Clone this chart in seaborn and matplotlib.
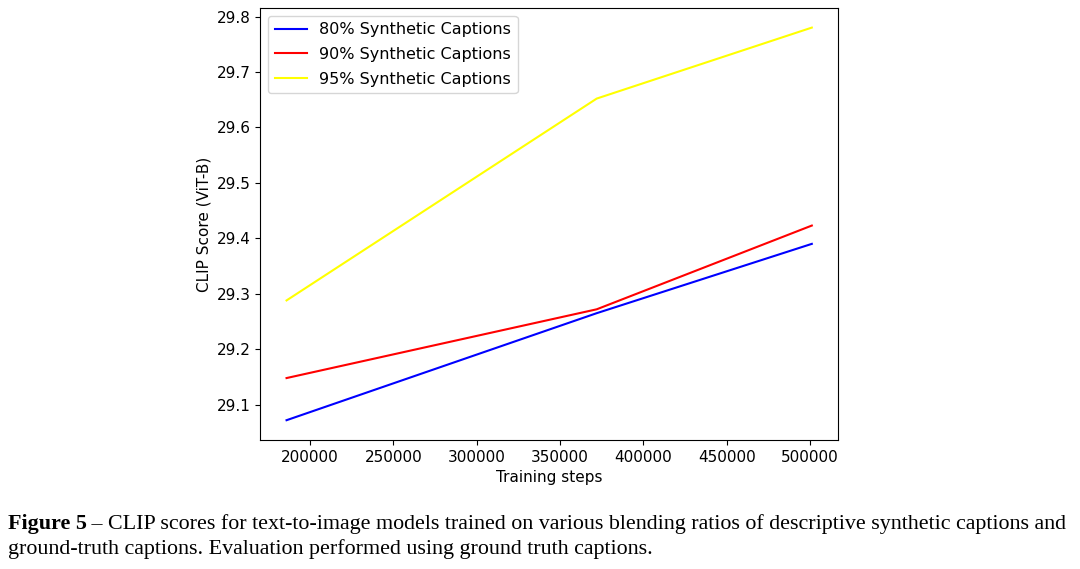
import matplotlib
matplotlib.use("Agg")
import matplotlib.pyplot as plt
import seaborn as sns
import pandas as pd

steps = [186000, 372000, 501000]
s80 = [29.072, 29.265, 29.390]
s90 = [29.148, 29.272, 29.423]
s95 = [29.288, 29.652, 29.780]
labels = ["80% Synthetic Captions", "90% Synthetic Captions", "95% Synthetic Captions"]
colors = ["blue", "red", "yellow"]

df = pd.DataFrame({"steps": steps * 3,
                   "score": s80 + s90 + s95,
                   "series": [l for l in labels for _ in steps]})

fig = plt.figure(figsize=(10.8, 5.69), dpi=100)
ax = fig.add_axes([0.241, 0.227, 0.535, 0.759])
sns.lineplot(data=df, x="steps", y="score", hue="series", palette=colors, ax=ax, linewidth=1.5)
ax.set_xlabel("Training steps", fontsize=11)
ax.set_ylabel("CLIP Score (ViT-B)", fontsize=11)
ax.set_xticks([200000, 250000, 300000, 350000, 400000, 450000, 500000])
ax.set_yticks([29.1, 29.2, 29.3, 29.4, 29.5, 29.6, 29.7, 29.8])
ax.tick_params(labelsize=11)
ax.legend(title=None, fontsize=11.5, loc="upper left", labelspacing=0.6)

cap = dict(family="Liberation Serif", fontsize=15.8)
t = fig.text(0.007, 1 - 524/569, "Figure 5", fontweight="bold", va="center", **cap)
fig.canvas.draw()
bb = t.get_window_extent()
fig.text(bb.x1/1080, 1 - 524/569,
         " \u2013 CLIP scores for text-to-image models trained on various blending ratios of descriptive synthetic captions and",
         va="center", **cap)
fig.text(0.007, 1 - 549/569,
         "ground-truth captions. Evaluation performed using ground truth captions.", va="center", **cap)
fig.savefig("out.png", dpi=100)
